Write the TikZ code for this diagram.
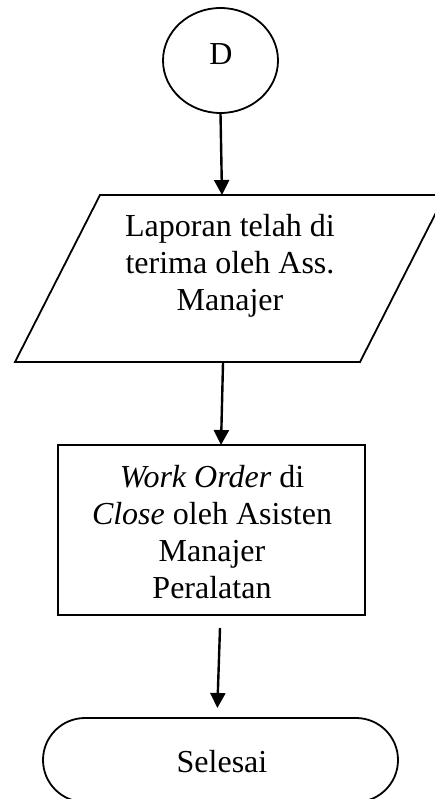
\documentclass[tikz,border=0pt]{standalone}
\usepackage{fontspec}
\setmainfont{Liberation Serif}
\usetikzlibrary{arrows.meta,shapes.geometric}
\begin{document}
\begin{tikzpicture}[x=1pt,y=-1pt,
  shapeline/.style={draw=black,line width=1.8pt},
  txt/.style={font=\fontsize{32}{36.7}\selectfont,align=center,inner sep=0pt},
  arr/.style={line width=2.4pt,-{Triangle[length=15pt,width=15pt]}}]
\useasboundingbox (0,0) rectangle (435,799);
% connector
\node[shapeline,ellipse,minimum width=115pt,minimum height=105pt,inner sep=0pt] (d) at (220.5,60.5) {};
\node[txt] (dtxt) at (221,54) {D};
% parallelogram
\coordinate (pTL) at (100,195);
\coordinate (pTR) at (445,195);
\coordinate (pBR) at (360,362);
\coordinate (pBL) at (15,362);
\draw[shapeline,line join=miter] (pTL) -- (pTR) -- (pBR) -- (pBL) -- cycle;
\node[txt] (lap) at (230,266) {Laporan telah di\\terima oleh Ass.\\Manajer};
\coordinate (pTop) at (222,195);
\coordinate (pBot) at (223,363);
% process
\node[shapeline,rectangle,minimum width=307pt,minimum height=170pt,inner sep=0pt] (wo) at (211.5,530) {};
\node[txt] (wotxt) at (212,532) {\textit{Work Order} di\\\textit{Close} oleh Asisten\\Manajer\\Peralatan};
% terminal
\node[shapeline,rectangle,rounded corners=42pt,minimum width=355pt,minimum height=84pt,inner sep=0pt] (end) at (220.5,760) {};
\node[txt] (endtxt) at (222,762) {Selesai};
\coordinate (a3s) at (220,628);
\coordinate (a3e) at (217,718);
% arrows
\draw[arr] (d.south) -- (pTop);
\draw[arr] (pBot) -- (221,445) coordinate (woTop);
\draw[arr,shorten >=10pt] (a3s) -- (a3e);
\end{tikzpicture}
\end{document}
